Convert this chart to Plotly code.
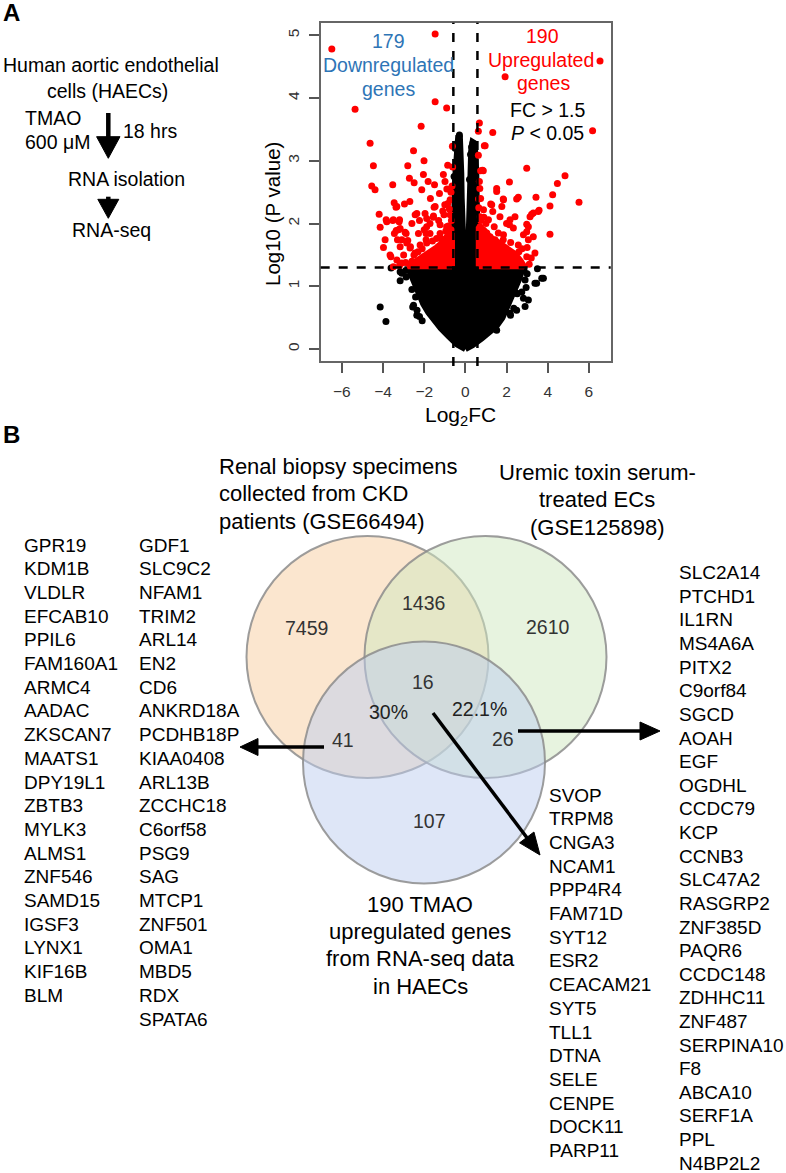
import math
import plotly.graph_objects as go

W, H = 786, 1173
FONT = "Liberation Sans, Arial, Helvetica, sans-serif"

# ---------------- Panel A data ----------------
x_ticks = [-6, -4, -2, 0, 2, 4, 6]
x_tick_labels = ["\u22126", "\u22124", "\u22122", "0", "2", "4", "6"]
y_ticks = [0, 1, 2, 3, 4, 5]
y_tick_labels = ["0", "1", "2", "3", "4", "5"]
fc_cut = 0.585      # log2(1.5)
p_cut = 1.30        # -log10(0.05)
down_count = 179
up_count = 190

# outline of the dense cloud of non-significant genes (point centres)
black_cloud_x = [0.0, 0.35, 0.8, 1.2, 1.5, 1.8, 2.05, 2.25, 2.45, 2.62, 2.75, 2.78,
                 0.62, 0.58, 0.56, 0.55, 0.53, 0.5, 0.45, 0.35, 0.28, 0.25, 0.22, 0.2, 0.16, 0.08,
                 0.0, -0.1, -0.15, -0.18, -0.2, -0.22, -0.27, -0.35, -0.42, -0.48, -0.52, -0.56, -0.58, -0.6,
                 -2.75, -2.6, -2.45, -2.3, -2.05, -1.8, -1.5, -1.2, -0.8, -0.4, 0.0]
black_cloud_y = [0.0, 0.06, 0.17, 0.27, 0.36, 0.5, 0.68, 0.85, 1.0, 1.12, 1.25, 1.27,
                 1.27, 1.6, 2.0, 2.4, 2.8, 3.1, 3.28, 3.3, 3.15, 2.8, 2.4, 2.0, 1.8, 1.6,
                 1.55, 1.7, 2.0, 2.4, 2.8, 3.2, 3.4, 3.38, 3.1, 2.8, 2.4, 2.0, 1.6, 1.27,
                 1.27, 1.15, 1.0, 0.88, 0.72, 0.58, 0.45, 0.33, 0.2, 0.07, 0.0]

# dense cores of significant genes just above the P threshold
red_core_left_x = [-0.65, -0.65, -0.9, -1.1, -1.4, -1.7, -2.0, -2.4, -2.75, -2.8]
red_core_left_y = [1.32, 1.85, 1.8, 1.7, 1.62, 1.55, 1.48, 1.4, 1.34, 1.32]
red_core_right_x = [0.65, 0.65, 0.9, 1.2, 1.6, 2.0, 2.4, 2.7, 2.85]
red_core_right_y = [1.32, 1.95, 1.9, 1.78, 1.7, 1.62, 1.52, 1.4, 1.32]

# individual significant genes
red_x = [-6.49, -1.47, -5.36, -1.47, -0.91, -2.15, -4.63, -2.52, -4.47, -2.80, -2.01, -0.86, -0.63,
         -2.72, -2.04, -2.49, -1.81, -1.50, -1.07, -0.99, -4.55, -4.39, -3.53, -2.12, -3.46, -3.37,
         -2.96, -4.19, -4.14, -3.85, -3.50, -3.20, -2.36, -1.96, -1.52, -1.55, -0.74, -1.26, -0.74,
         -3.90, -3.98, -3.45, -3.25, -2.88, -3.09, -2.85, -2.69, -2.44, -3.62, -3.33, -3.09, -1.88,
         -1.72, -1.91, -1.23, -0.91, -0.74, -3.33, -1.47, -0.85, -0.78, -3.82, -3.53, -3.22, -3.17,
         -2.44, -2.23, -1.88, -1.56, -1.72, -1.23, -1.04, -0.83, -3.66, -3.36, -3.30, -3.17, -2.93,
         -2.80, -2.67, -2.50, -2.28, -1.91, -2.20, -1.88, -2.3, -2.1, -1.6, -1.4, -1.15, -0.95, -0.7,
         -0.68, -0.65, -0.62, -0.7, -1.0, -1.3, -2.6, -2.9, -3.2, -3.5, -3.0, -2.0, -1.1, -0.9, -1.7,
         -2.6, -2.7,
         6.54, 1.93, 6.18, 0.68, 1.33, 0.63, 0.92, 0.63, 2.98, 4.84, 4.47, 2.14, 0.74, 0.87, 0.68,
         1.52, 1.52, 4.24, 5.52, 3.43, 2.49, 1.84, 1.23, 0.74, 4.11, 3.58, 3.30, 3.14, 2.98, 4.11,
         1.33, 1.68, 2.14, 2.41, 1.12, 2.82, 3.06, 2.57, 1.84, 1.20, 0.87, 3.38, 2.98, 3.54, 3.22,
         3.06, 2.17, 2.0, 2.33, 2.98, 3.3, 1.85, 1.44, 1.04, 0.71, 0.88, 0.64, 0.71, 1.28, 1.77,
         1.85, 2.57, 0.96, 0.83, 0.7, 2.6, 2.2, 1.6, 1.0, 0.75, 3.2, 3.1, 2.75, 3.0, 1.4, 0.9, 0.65]
red_y = [4.78, 5.02, 3.82, 3.94, 3.84, 3.55, 3.28, 3.16, 2.92, 2.92, 3.00, 2.93, 3.23,
         2.72, 2.78, 2.65, 2.67, 2.62, 2.78, 2.67, 2.60, 2.54, 2.62, 2.54, 2.33, 2.26,
         2.31, 2.15, 1.94, 2.06, 2.06, 2.06, 2.16, 2.16, 2.26, 2.12, 2.14, 2.48, 2.38,
         1.74, 1.62, 1.84, 1.90, 1.84, 1.74, 1.69, 1.61, 1.53, 1.47, 1.42, 1.37, 1.95,
         1.84, 1.74, 1.84, 1.95, 1.74, 2.27, 2.27, 2.32, 2.23, 2.03, 2.05, 2.03, 1.92,
         2.14, 2.05, 2.08, 2.10, 2.00, 1.98, 2.14, 1.96, 1.50, 1.89, 1.74, 1.63, 1.86,
         1.73, 1.63, 1.50, 1.84, 1.84, 1.66, 1.69, 1.55, 1.6, 1.72, 1.76, 1.75, 1.88, 1.9,
         2.05, 2.6, 2.9, 2.5, 2.3, 2.05, 1.4, 1.38, 1.33, 1.31, 1.5, 1.9, 2.2, 2.55, 2.4,
         2.0, 2.35,
         4.59, 4.34, 3.48, 3.60, 3.45, 3.47, 3.24, 3.09, 2.88, 2.76, 2.64, 2.66, 2.84, 2.84, 2.67,
         2.56, 2.51, 2.46, 2.34, 2.42, 2.39, 2.39, 2.31, 2.40, 2.28, 2.21, 2.17, 2.11, 1.99, 1.83,
         2.19, 2.11, 1.98, 2.11, 2.06, 1.82, 1.74, 1.66, 1.74, 1.79, 1.84, 1.53, 1.47, 2.19, 2.15,
         1.95, 2.06, 2.00, 1.93, 1.87, 1.79, 1.82, 1.74, 1.85, 1.95, 2.22, 2.39, 2.11, 2.30, 2.27,
         2.38, 2.42, 3.24, 2.85, 2.56, 1.55, 1.7, 1.85, 2.0, 2.05, 1.45, 1.35, 1.6, 1.62, 1.95, 2.1, 2.25]

# individual non-significant genes outside the dense cloud
black_x = [-4.14, -3.86, -3.61, -3.17, -3.17, -2.88, -2.56, -2.42, -2.23, -2.9, -2.6, -2.35, -2.1,
           -3.09, -2.52, -2.36, -0.29, -0.42, -0.5, -0.35, -0.45, -0.55,
           3.50, 3.71, 3.46, 2.62, 2.74, 3.06, 2.52, 2.35, 2.19, 1.52, 2.9, 2.95, 3.0, 2.85,
           3.38, 3.79, 2.49, 2.82, 2.9, 2.49, 2.17, 0.36, 0.25, 0.45, 0.3, 0.2, 0.55]
black_y = [0.67, 0.44, 1.29, 1.23, 1.09, 1.15, 0.67, 0.83, 0.52, 1.25, 0.95, 0.62, 0.45,
           1.21, 0.70, 0.54, 3.41, 3.27, 3.2, 3.0, 2.85, 2.75,
           1.28, 1.13, 1.05, 1.18, 0.91, 0.78, 0.88, 0.65, 0.54, 0.30, 1.1, 0.98, 1.2, 1.25,
           1.05, 1.13, 0.89, 0.81, 0.68, 0.62, 0.57, 3.28, 3.1, 3.0, 3.22, 2.7, 2.6]

# ---------------- Panel B data ----------------
venn_counts = {"ckd_only": "7459", "ckd_uremic": "1436", "uremic_only": "2610",
               "all_three": "16", "ckd_tmao": "41", "uremic_tmao": "26", "tmao_only": "107"}
venn_pcts = {"ckd_tmao": "30%", "uremic_tmao": "22.1%"}
set_titles = {
    "ckd": ["Renal biopsy specimens", "collected from CKD", "patients (GSE66494)"],
    "uremic": ["Uremic toxin serum-", "treated ECs", "(GSE125898)"],
    "tmao": ["190 TMAO", "upregulated genes", "from RNA-seq data", "in HAECs"],
}
genes_ckd_tmao_col1 = ["GPR19", "KDM1B", "VLDLR", "EFCAB10", "PPIL6", "FAM160A1", "ARMC4", "AADAC",
                       "ZKSCAN7", "MAATS1", "DPY19L1", "ZBTB3", "MYLK3", "ALMS1", "ZNF546", "SAMD15",
                       "IGSF3", "LYNX1", "KIF16B", "BLM"]
genes_ckd_tmao_col2 = ["GDF1", "SLC9C2", "NFAM1", "TRIM2", "ARL14", "EN2", "CD6", "ANKRD18A",
                       "PCDHB18P", "KIAA0408", "ARL13B", "ZCCHC18", "C6orf58", "PSG9", "SAG", "MTCP1",
                       "ZNF501", "OMA1", "MBD5", "RDX", "SPATA6"]
genes_all_three = ["SVOP", "TRPM8", "CNGA3", "NCAM1", "PPP4R4", "FAM71D", "SYT12", "ESR2", "CEACAM21",
                   "SYT5", "TLL1", "DTNA", "SELE", "CENPE", "DOCK11", "PARP11"]
genes_uremic_tmao = ["SLC2A14", "PTCHD1", "IL1RN", "MS4A6A", "PITX2", "C9orf84", "SGCD", "AOAH", "EGF",
                     "OGDHL", "CCDC79", "KCP", "CCNB3", "SLC47A2", "RASGRP2", "ZNF385D", "PAQR6",
                     "CCDC148", "ZDHHC11", "ZNF487", "SERPINA10", "F8", "ABCA10", "SERF1A", "PPL",
                     "N4BP2L2"]

RED = "#ff0000"
BLUE = "#2e75b6"

fig = go.Figure()

# ---- volcano plot ----
fig.add_trace(go.Scatter(x=black_cloud_x, y=black_cloud_y, mode="lines", fill="toself",
                         fillcolor="black", line=dict(color="black", width=6),
                         hoverinfo="skip", showlegend=False))
fig.add_trace(go.Scatter(x=black_x, y=black_y, mode="markers",
                         marker=dict(color="black", size=7), hoverinfo="skip", showlegend=False))
for cx, cy in [(red_core_left_x, red_core_left_y), (red_core_right_x, red_core_right_y)]:
    fig.add_trace(go.Scatter(x=cx + [cx[0]], y=cy + [cy[0]], mode="lines", fill="toself",
                             fillcolor=RED, line=dict(color=RED, width=6),
                             hoverinfo="skip", showlegend=False))
fig.add_trace(go.Scatter(x=red_x, y=red_y, mode="markers",
                         marker=dict(color=RED, size=7), hoverinfo="skip", showlegend=False))

# invisible trace to create the full-page overlay axes
fig.add_trace(go.Scatter(x=[0, W], y=[0, H], mode="markers", marker=dict(opacity=0),
                         xaxis="x2", yaxis="y2", hoverinfo="skip", showlegend=False))

shapes = []
# threshold lines
for xv in (-fc_cut, fc_cut):
    shapes.append(dict(type="line", xref="x", yref="paper", x0=xv, x1=xv,
                       y0=1 - 366 / H, y1=1 - 22.7 / H,
                       line=dict(color="black", width=2.5, dash="dash")))
shapes.append(dict(type="line", xref="paper", yref="y", x0=320.7 / W, x1=610.7 / W,
                   y0=p_cut, y1=p_cut, line=dict(color="black", width=2.5, dash="dash")))


def arrow(x0, y0, x1, y1, head_len, half_w, width):
    dx, dy = x1 - x0, y1 - y0
    L = math.hypot(dx, dy)
    ux, uy = dx / L, dy / L
    bx, by = x1 - ux * head_len, y1 - uy * head_len
    nx, ny = -uy, ux
    shapes.append(dict(type="line", xref="x2", yref="y2", x0=x0, y0=y0, x1=bx + ux, y1=by + uy,
                       line=dict(color="black", width=width)))
    path = (f"M {x1},{y1} L {bx + nx * half_w},{by + ny * half_w} "
            f"L {bx - nx * half_w},{by - ny * half_w} Z")
    shapes.append(dict(type="path", xref="x2", yref="y2", path=path,
                       fillcolor="black", line=dict(color="black", width=1)))


# flow chart arrows (panel A)
arrow(108.3, 113, 108.3, 158.3, 21.6, 11.7, 4.5)
arrow(108.3, 196.7, 108.3, 218.3, 19, 10.5, 4.5)

# Venn circles
circles = [((367.5, 657), "rgba(247,205,160,0.5)"),
           ((485.5, 657), "rgba(208,232,192,0.5)"),
           ((424, 762.5), "rgba(190,206,240,0.5)")]
R = 121
for (cx, cy), col in circles:
    shapes.append(dict(type="circle", xref="x2", yref="y2", x0=cx - R, x1=cx + R,
                       y0=cy - R, y1=cy + R, fillcolor=col,
                       line=dict(color="rgba(140,140,140,0.85)", width=2)))

# Venn arrows
arrow(324, 747, 240, 747, 18, 8.5, 3.5)
arrow(518, 731, 660, 731, 20, 9, 3.5)
arrow(433, 713, 540, 855, 22, 9, 3.5)

ann = []


def txt(x, y, text, size=19, color="black", xanchor="center", angle=0, bold=False):
    if bold:
        text = f"<b>{text}</b>"
    ann.append(dict(x=x, y=y, xref="x2", yref="y2", text=text, showarrow=False,
                    xanchor=xanchor, yanchor="middle", textangle=angle,
                    font=dict(family=FONT, size=size, color=color)))


# panel labels
txt(1, 12, "A", size=24, xanchor="left", bold=True)
txt(1, 434, "B", size=24, xanchor="left", bold=True)

# flow chart text
txt(110.8, 65, "Human aortic endothelial", size=19.5)
txt(107.5, 91, "cells (HAECs)", size=19.5)
txt(22.7, 118, "TMAO", size=19.5, xanchor="left")
txt(22.7, 142, "600 \u03bcM", size=19.5, xanchor="left")
txt(120.7, 131, "18 hrs", size=19.5, xanchor="left")
txt(126.7, 179, "RNA isolation", size=19.5)
txt(111, 230, "RNA-seq", size=19.5)

# volcano labels
txt(388, 41, str(down_count), size=19.5, color=BLUE)
txt(388, 65, "Downregulated", size=19.5, color=BLUE)
txt(388, 89, "genes", size=19.5, color=BLUE)
txt(542, 36, str(up_count), size=19.5, color=RED)
txt(541, 60, "Upregulated", size=19.5, color=RED)
txt(543, 83, "genes", size=19.5, color=RED)
txt(547, 110, "FC &gt; 1.5", size=19.5)
txt(547, 133, "<i>P</i> &lt; 0.05", size=19.5)
txt(272, 214, "Log10 (P value)", size=20.5, angle=-90)
txt(460, 416, "Log<sub>2</sub>FC", size=21)

# Venn numbers
venn_pos = {"ckd_only": (306.7, 628), "ckd_uremic": (423, 603), "uremic_only": (548, 627),
            "all_three": (423, 682), "ckd_tmao": (343, 740), "uremic_tmao": (503, 739),
            "tmao_only": (429, 821)}
pct_pos = {"ckd_tmao": (388, 712), "uremic_tmao": (479, 709)}
for k, (x, y) in venn_pos.items():
    txt(x, y, venn_counts[k], size=19.5, color="#333333")
for k, (x, y) in pct_pos.items():
    txt(x, y, venn_pcts[k], size=19.5, color="#222222")

# set titles
for i, line in enumerate(set_titles["ckd"]):
    txt(217, 466 + i * 27.5, line, size=22, xanchor="left")
for i, line in enumerate(set_titles["uremic"]):
    txt(597, 472 + i * 27.5, line, size=22)
for i, line in enumerate(set_titles["tmao"]):
    txt(420, 904 + i * 27.4, line, size=22)

# gene lists
ROW = 23.7
for i, g in enumerate(genes_ckd_tmao_col1):
    txt(22, 545 + i * ROW, g, xanchor="left")
for i, g in enumerate(genes_ckd_tmao_col2):
    txt(137, 545 + i * ROW, g, xanchor="left")
for i, g in enumerate(genes_all_three):
    txt(547, 795 + i * ROW, g, xanchor="left")
for i, g in enumerate(genes_uremic_tmao):
    txt(677, 572.7 + i * 23.62, g, xanchor="left")

axis_common = dict(showgrid=False, zeroline=False, showline=True, mirror=True,
                   linecolor="#666666", linewidth=1.5, ticks="outside", ticklen=10,
                   tickwidth=1.5, tickcolor="#555555",
                   tickfont=dict(family=FONT, size=15.5, color="#333333"))

fig.update_layout(
    width=W, height=H, margin=dict(l=0, r=0, t=0, b=0),
    paper_bgcolor="white", plot_bgcolor="rgba(0,0,0,0)",
    showlegend=False,
    xaxis=dict(domain=[320.7 / W, 610.7 / W], range=[-7.03, 7.06], tickvals=x_ticks,
               ticktext=x_tick_labels, ticklabelstandoff=6, **axis_common),
    yaxis=dict(domain=[1 - 361 / H, 1 - 22.7 / H], range=[-0.19, 5.2], tickvals=y_ticks,
               ticktext=y_tick_labels, tickangle=-90, ticklabelstandoff=4, **axis_common),
    xaxis2=dict(domain=[0, 1], range=[0, W], visible=False, anchor="y2", fixedrange=True),
    yaxis2=dict(domain=[0, 1], range=[H, 0], visible=False, anchor="x2", fixedrange=True),
    shapes=shapes, annotations=ann,
)

fig.write_html("out.html", config={"displayModeBar": False},
               post_script="document.body.style.margin='0';document.body.style.padding='0';")
